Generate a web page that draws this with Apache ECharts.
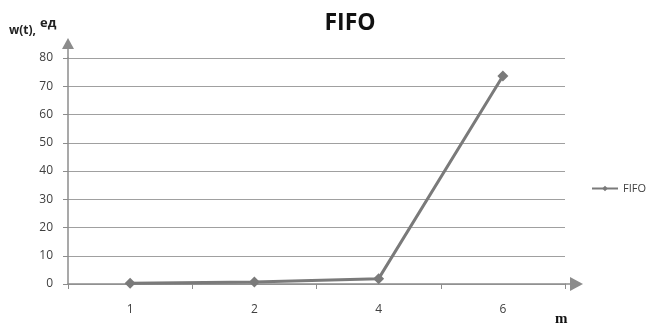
<!DOCTYPE html>
<html><head><meta charset="utf-8">
<script src="https://cdn.jsdelivr.net/npm/echarts@6/dist/echarts.min.js"></script>
<style>html,body{margin:0;padding:0;background:#fff}#c{width:651px;height:327px}</style>
</head><body><div id="c"></div>
<script>
const categories = ['1', '2', '4', '6'];
const fifoValues = [0.3, 0.7, 1.9, 73.6];
const yTicks = { min: 0, max: 80, interval: 10 };

const chart = echarts.init(document.getElementById('c'));
const axisColor = '#8c8c8c';
const font = '"Open Sans", "Noto Sans", sans-serif';
chart.setOption({
  animation: false,
  backgroundColor: '#fff',
  title: { text: 'FIFO', left: 345, textAlign: 'center', top: 7,
    textStyle: { fontFamily: font, fontWeight: 'bold', fontSize: 23, color: '#111' } },
  legend: { data: ['FIFO'], orient: 'vertical', left: 586, top: 178, itemWidth: 26, itemHeight: 7,
    textStyle: { fontFamily: font, fontSize: 11, color: '#404040' }, itemGap: 4 },
  grid: { left: 68, right: 86, top: 58, bottom: 43 },
  xAxis: { type: 'category', data: categories, boundaryGap: true,
    axisLine: { lineStyle: { color: axisColor, width: 1.5 } },
    axisTick: { show: true, length: 5, lineStyle: { color: axisColor } },
    axisLabel: { margin: 20, fontFamily: font, fontSize: 12, color: '#404040' } },
  yAxis: { type: 'value', min: yTicks.min, max: yTicks.max, interval: yTicks.interval,
    axisLine: { show: true, lineStyle: { color: axisColor, width: 1.5 } },
    axisTick: { show: true, length: 5, lineStyle: { color: axisColor } },
    axisLabel: { margin: 15, fontFamily: font, fontSize: 12, color: '#404040' },
    splitLine: { lineStyle: { color: '#a0a0a0', width: 1 } } },
  series: [{ name: 'FIFO', type: 'line', data: fifoValues, symbol: 'diamond', symbolSize: 11,
    lineStyle: { color: '#7a7a7a', width: 3 }, itemStyle: { color: '#7a7a7a' } }]
});

const origin = chart.convertToPixel({ gridIndex: 0 }, [0, 0]);
const yTop = chart.convertToPixel({ yAxisIndex: 0 }, yTicks.max);
const xRight = 651 - 86;
const oy = origin[1];
chart.setOption({
  graphic: [
    { type: 'line', shape: { x1: 68, y1: yTop, x2: 68, y2: yTop - 9 }, style: { stroke: axisColor, lineWidth: 1.5 } },
    { type: 'polygon', shape: { points: [[68, yTop - 20], [62, yTop - 9], [74, yTop - 9]] }, style: { fill: axisColor } },
    { type: 'line', shape: { x1: xRight, y1: oy, x2: xRight + 5, y2: oy }, style: { stroke: axisColor, lineWidth: 1.5 } },
    { type: 'polygon', shape: { points: [[xRight + 18, oy], [xRight + 5, oy - 7], [xRight + 5, oy + 7]] }, style: { fill: axisColor } },
    { type: 'text', left: 9, top: 25, style: { text: 'w(t),', font: 'bold 12px "Open Sans", sans-serif', fill: '#222' } },
    { type: 'text', left: 40, top: 17, style: { text: 'ед', font: 'bold 13px "Open Sans", sans-serif', fill: '#222' } },
    { type: 'text', left: 555, top: 312, style: { text: 'm', font: 'bold 15px "Liberation Serif", serif', fill: '#111' } }
  ]
});
</script></body></html>
